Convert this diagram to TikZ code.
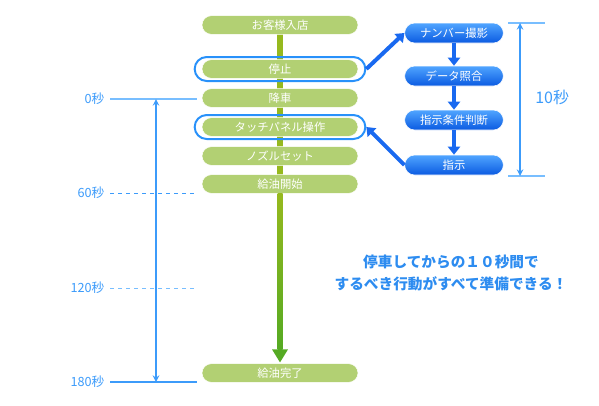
\documentclass[tikz,border=0pt]{standalone}
\usepackage{fontspec}
\newfontfamily\jpfont{Noto Sans CJK JP}
\usetikzlibrary{positioning,calc,arrows.meta}
\tikzset{>=stealth}
\definecolor{pillgreen}{RGB}{178,208,115}
\definecolor{stemolive}{RGB}{150,185,30}
\definecolor{stemgreen}{RGB}{85,170,35}
\definecolor{pilltop}{RGB}{80,165,255}
\definecolor{pillbot}{RGB}{10,90,225}
\definecolor{arrowblue}{RGB}{25,105,240}
\definecolor{ringblue}{RGB}{40,145,250}
\definecolor{dimblue}{RGB}{60,155,250}
\definecolor{lightdim}{RGB}{120,190,255}
\definecolor{msgblue}{RGB}{45,140,240}
\tikzset{
  greenpill/.style={draw=white,fill=pillgreen,rounded corners=7pt,minimum width=117pt,
    minimum height=14pt,inner sep=0pt,text=white,font=\jpfont\fontsize{8.5}{9}\selectfont},
  bluepill/.style={draw=white,top color=pilltop,bottom color=pillbot,rounded corners=7.5pt,
    minimum width=74pt,minimum height=15pt,inner sep=0pt,text=white,font=\jpfont\fontsize{8.5}{9}\selectfont},
  ring/.style={draw=ringblue,line width=1.5pt,rounded corners=9pt,minimum width=128pt,minimum height=18pt},
  fatarrow/.style={arrowblue,line width=3pt,-{Triangle[width=9pt,length=6pt]}},
  seclabel/.style={anchor=east,inner sep=1pt,text=dimblue,font=\jpfont\fontsize{9.5}{10}\selectfont},
}
\begin{document}
\begin{tikzpicture}[x=0.75pt,y=-0.75pt]
\useasboundingbox (0,0) rectangle (599,405);
% flow of the car
\coordinate (P1) at (280,25);
\coordinate (P2) at (280,69);
\coordinate (P3) at (280,98);
\coordinate (P4) at (280,127);
\coordinate (P5) at (280,156);
\coordinate (P6) at (280,184);
\coordinate (P7) at (280,373);
\draw[stemolive,line width=4pt] (P1) -- (P6);
\node[greenpill] (enter) at (P1) {お客様入店};
\node[greenpill] (stop) at (P2) {停止};
\node[greenpill] (getoff) at (P3) {降車};
\node[greenpill] (panel) at (P4) {タッチパネル操作};
\node[greenpill] (nozzle) at (P5) {ノズルセット};
\node[greenpill] (start) at (P6) {給油開始};
\node[greenpill] (done) at (P7) {給油完了};
\node[ring] (stopring) at (P2) {};
\node[ring] (panelring) at (P4) {};
\shade[top color=stemolive,bottom color=stemgreen] ($(start.south)+(-2.5,0)$) rectangle ($(done.north)+(2.5,-14)$);
\fill[stemgreen] ($(done.north)+(-8,-14)$) -- ($(done.north)+(8,-14)$) -- ($(done.north)+(0,-1)$) -- cycle;
% system side
\coordinate (Q1) at (454,33);
\coordinate (Q2) at (454,76);
\coordinate (Q3) at (454,120);
\coordinate (Q4) at (454,165);
\node[bluepill] (camera) at (Q1) {ナンバー撮影};
\node[bluepill] (match) at (Q2) {データ照合};
\node[bluepill] (judge) at (Q3) {指示条件判断};
\node[bluepill] (order) at (Q4) {指示};
\draw[fatarrow] (camera) -- (match);
\draw[fatarrow] (match) -- (judge);
\draw[fatarrow] (judge) -- (order);
\draw[fatarrow] (stopring.east) -- (camera.west);
\draw[fatarrow] (order.west) -- (panelring.east);
% 10 seconds
\coordinate (T1) at (508,23);
\coordinate (T2) at (508,176);
\draw[lightdim,line width=1pt] (T1) -- ++(37,0);
\draw[lightdim,line width=1pt] (T2) -- ++(37,0);
\draw[dimblue,line width=1.2pt,<->] ($(T1)+(12,0)$) -- ($(T2)+(12,0)$);
\node[anchor=west,inner sep=0pt,text=dimblue,font=\jpfont\fontsize{12}{13}\selectfont] (tensec) at (535,97) {10秒};
% time scale
\node[seclabel] (s0) at (106,99) {0秒};
\node[seclabel] (s60) at (106,193) {60秒};
\node[seclabel] (s120) at (106,288) {120秒};
\node[seclabel] (s180) at (106,382) {180秒};
\draw[lightdim,line width=1pt] (s0.east) ++(4,0) -- ++(87,0);
\draw[dimblue,line width=0.6pt,dashed] (s60.east) ++(4,0) -- ++(87,0);
\draw[lightdim,line width=0.6pt,dashed] (s120.east) ++(4,0) -- ++(87,0);
\draw[dimblue,line width=1pt] (s180.east) ++(4,0) -- ++(87,0);
\draw[dimblue,line width=1.2pt,<->] (156,99) -- (156,382);
% message
\node[text=msgblue,align=center,font=\jpfont\bfseries\fontsize{11}{17}\selectfont] (msg) at (451,273)
  {停車してからの１０秒間で\\するべき行動がすべて準備できる！};
\end{tikzpicture}
\end{document}
